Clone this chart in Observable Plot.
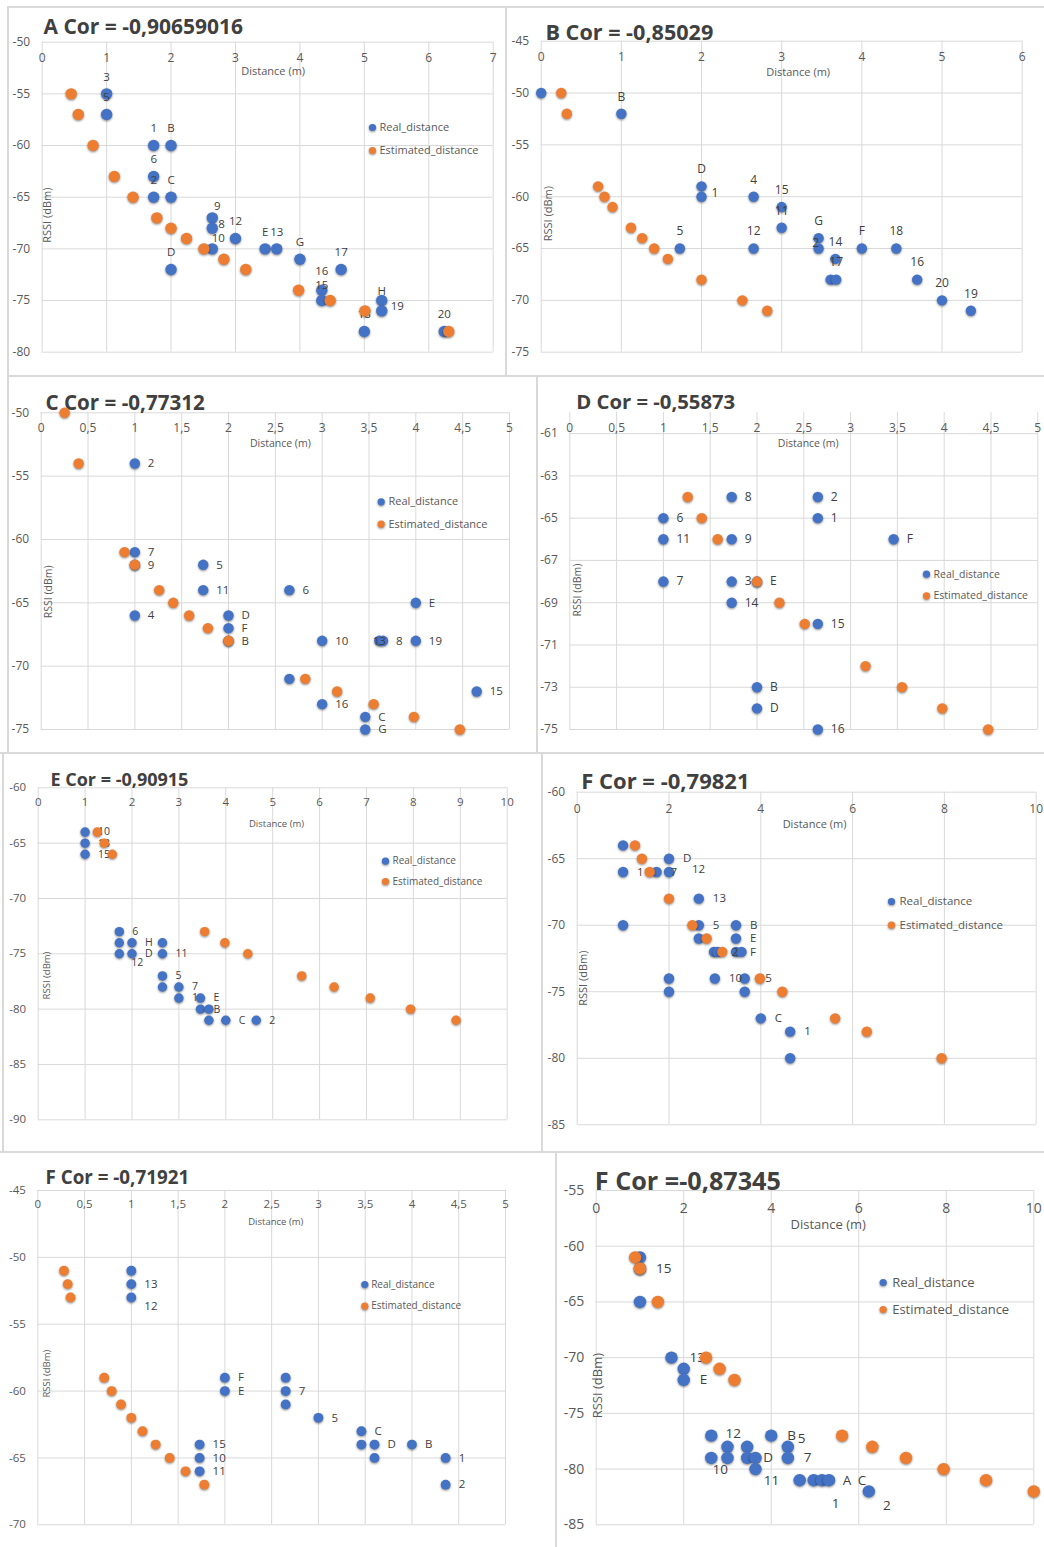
<!DOCTYPE html>
<html><head><meta charset="utf-8">
<script src="https://cdn.jsdelivr.net/npm/d3@7"></script>
<script src="https://cdn.jsdelivr.net/npm/@observablehq/plot@0.6"></script>
<style>
body{margin:0;background:#fff;}
#root{position:relative;width:1044px;height:1547px;overflow:hidden;background:#fff;font-family:"Open Sans",sans-serif;}
.panel{position:absolute;}
.sep{position:absolute;background:#d9d9d9;}
.panel svg g[aria-label="dot"] circle{filter:drop-shadow(0.6px 1.2px 0.8px rgba(0,0,0,0.45));}
</style>
</head><body><div id="root"></div>
<script>
// ---------- titles ----------
const titles = ["A Cor = -0,90659016","B Cor = -0,85029","C Cor = -0,77312","D Cor = -0,55873",
                "E Cor = -0,90915","F Cor = -0,79821","F Cor = -0,71921","F Cor =-0,87345"];
const seriesNames = ["Real_distance","Estimated_distance"];
const xTitle = "Distance (m)";
const yTitle = "RSSI (dBm)";

// ---------- ticks ----------
const A_xTicks=[0,1,2,3,4,5,6,7], A_yTicks=[-80,-75,-70,-65,-60,-55,-50];
const B_xTicks=[0,1,2,3,4,5,6], B_yTicks=[-75,-70,-65,-60,-55,-50,-45];
const C_xTicks=[0,0.5,1,1.5,2,2.5,3,3.5,4,4.5,5], C_yTicks=[-75,-70,-65,-60,-55,-50];
const D_xTicks=[0,0.5,1,1.5,2,2.5,3,3.5,4,4.5,5], D_yTicks=[-75,-73,-71,-69,-67,-65,-63,-61];
const E_xTicks=[0,1,2,3,4,5,6,7,8,9,10], E_yTicks=[-90,-85,-80,-75,-70,-65,-60];
const F_xTicks=[0,2,4,6,8,10], F_yTicks=[-85,-80,-75,-70,-65,-60];
const G_xTicks=[0,0.5,1,1.5,2,2.5,3,3.5,4,4.5,5], G_yTicks=[-70,-65,-60,-55,-50,-45];
const H_xTicks=[0,2,4,6,8,10], H_yTicks=[-85,-80,-75,-70,-65,-60,-55];

// ---------- data: [distance, RSSI, label] ----------
const A_real=[[1,-55,"3"],[1,-57,"5"],[1.73,-60,"1"],[2,-60,"B"],[1.73,-63,"6"],[1.73,-65,"2"],[2,-65,"C"],
 [2.64,-67,"9"],[2.64,-68,"8"],[3,-69,"12"],[2.64,-70,"10"],[2,-72,"D"],[3.46,-70,"E"],[3.64,-70,"13"],
 [4,-71,"G"],[4.64,-72,"17"],[4.34,-74,"16"],[4.34,-75,"15"],[5.27,-75,"H"],[5.27,-76,"19"],[5,-78,"18"],[6.24,-78,"20"]];
const A_est=[[0.45,-55],[0.56,-57],[0.79,-60],[1.12,-63],[1.41,-65],[1.78,-67],[2,-68],[2.24,-69],[2.51,-70],
 [2.82,-71],[3.16,-72],[3.98,-74],[4.47,-75],[5.01,-76],[6.31,-78]];

const B_real=[[0,-50,""],[1,-52,"B"],[2,-59,"D"],[2,-60,"1"],[2.65,-60,"4"],[3,-61,"15"],[3,-63,"11"],[1.73,-65,"5"],
 [2.65,-65,"12"],[3.46,-64,"G"],[3.46,-65,"2"],[3.67,-66,"14"],[3.61,-68,""],[3.68,-68,"17"],[4,-65,"F"],
 [4.43,-65,"18"],[4.69,-68,"16"],[5,-70,"20"],[5.36,-71,"19"]];
const B_est=[[0.25,-50],[0.32,-52],[0.71,-59],[0.79,-60],[0.89,-61],[1.12,-63],[1.26,-64],[1.41,-65],[1.58,-66],
 [2,-68],[2.51,-70],[2.82,-71]];

const C_real=[[1,-54,"2"],[1,-61,"7"],[1,-62,"9"],[1.73,-62,"5"],[1.73,-64,"11"],[2.65,-64,"6"],[1,-66,"4"],
 [2,-66,"D"],[2,-67,"F"],[2,-68,"B"],[4,-65,"E"],[3,-68,"10"],[3.61,-68,"13"],[3.65,-68,"8"],[4,-68,"19"],
 [2.65,-71,"3"],[3,-73,"16"],[3.46,-74,"C"],[3.46,-75,"G"],[4.65,-72,"15"]];
const C_est=[[0.25,-50],[0.4,-54],[0.89,-61],[1,-62],[1.26,-64],[1.41,-65],[1.58,-66],[1.78,-67],[2,-68],
 [2.82,-71],[3.16,-72],[3.55,-73],[3.98,-74],[4.47,-75]];

const D_real=[[1.73,-64,"8"],[2.65,-64,"2"],[1,-65,"6"],[2.65,-65,"1"],[1,-66,"11"],[1.73,-66,"9"],[3.46,-66,"F"],
 [1,-68,"7"],[1.73,-68,"3"],[2,-68,"E"],[1.73,-69,"14"],[2.65,-70,"15"],[2,-73,"B"],[2,-74,"D"],[2.65,-75,"16"]];
const D_est=[[1.26,-64],[1.41,-65],[1.58,-66],[2,-68],[2.24,-69],[2.51,-70],[3.16,-72],[3.55,-73],[3.98,-74],[4.47,-75]];

const E_real=[[1,-64,"10"],[1,-65,"13"],[1,-66,"15"],[1.73,-73,"6"],[1.73,-74,""],[2,-74,"H"],[1.73,-75,"12"],
 [2,-75,"D"],[2.65,-74,""],[2.65,-75,"11"],[2.65,-77,"5"],[2.65,-78,""],[3,-78,"7"],[3,-79,"1"],[3.46,-79,"E"],
 [3.46,-80,"B"],[3.64,-80,""],[3.64,-81,""],[4,-81,"C"],[4.65,-81,"2"]];
const E_est=[[1.26,-64],[1.41,-65],[1.58,-66],[3.55,-73],[3.98,-74],[4.47,-75],[5.62,-77],[6.31,-78],[7.08,-79],
 [7.94,-80],[8.91,-81]];

const F_real=[[1,-64,""],[2,-65,"D"],[1,-66,"11"],[1.73,-66,"7"],[2,-66,"12"],[2.65,-68,"13"],[1,-70,""],
 [2.65,-70,"5"],[3.46,-70,"B"],[2.65,-71,""],[3.46,-71,"E"],[2.98,-72,""],[3.06,-72,"2"],[3.46,-72,"F"],
 [3.58,-72,""],[2,-74,""],[3,-74,"10"],[3.65,-74,"15"],[2,-75,""],[3.65,-75,""],[4,-77,"C"],[4.64,-78,"1"],[4.64,-80,""]];
const F_est=[[1.26,-64],[1.41,-65],[1.58,-66],[2,-68],[2.51,-70],[2.82,-71],[3.16,-72],[3.98,-74],[4.47,-75],
 [5.62,-77],[6.31,-78],[7.94,-80]];

const G_real=[[1,-51,""],[1,-52,"13"],[1,-53,"12"],[2,-59,"F"],[2,-60,"E"],[2.65,-59,""],[2.65,-60,"7"],
 [2.65,-61,""],[3,-62,"5"],[3.46,-63,"C"],[3.46,-64,""],[3.6,-64,"D"],[3.6,-65,""],[4,-64,"B"],[4.36,-65,"1"],
 [4.36,-67,"2"],[1.73,-64,"15"],[1.73,-65,"10"],[1.73,-66,"11"]];
const G_est=[[0.28,-51],[0.32,-52],[0.35,-53],[0.71,-59],[0.79,-60],[0.89,-61],[1,-62],[1.12,-63],[1.26,-64],
 [1.41,-65],[1.58,-66],[1.78,-67]];

const H_real=[[1,-61,""],[1,-62,"15"],[1,-65,""],[1.72,-70,"13"],[2,-71,""],[2,-72,"E"],[2.63,-77,"12"],
 [4,-77,"B"],[3,-78,""],[3.45,-78,""],[4.38,-78,"5"],[2.63,-79,"10"],[3,-79,""],[3.45,-79,"D"],[3.64,-79,""],
 [4.38,-79,"7"],[3.64,-80,"11"],[4.65,-81,""],[4.97,-81,"1"],[5.16,-81,"C"],[5.32,-81,"A"],[6.23,-82,"2"]];
const H_est=[[0.89,-61],[1,-62],[1.41,-65],[2.51,-70],[2.82,-71],[3.16,-72],[5.62,-77],[6.31,-78],[7.08,-79],
 [7.94,-80],[8.91,-81],[10,-82]];

// ---------- layout / style config ----------
const BLUE="#4472C4", ORANGE="#ED7D31", GRID="#d9d9d9", TXT="#595959", DARK="#404040";
const TOP=[0,-17,"middle"];
const panels=[
 {box:[0,0,506,376], m:[41.7,13.3,24.3,41.7], xd:[0,7], yd:[-80,-50], xt:A_xTicks, yt:A_yTicks, real:A_real, est:A_est, title:titles[0],
  tpos:[1.3,-8.4,21], tick:12, ax:11, xl:[15.6,5.5,29.6], yl:[5.3,18], r:5.7, lab:11.5, def:TOP,
  over:{"8":[6,-4,"start"],"10":[6,-11,"middle"],"9":[5,-12,"middle"],"19":[9,-5,"start"],"H":[0,-9,"middle"],
        "16":[0,-19,"middle"],"15":[0,-15,"middle"]},
  leg:[330.3,85.3,108.3,337.3,11]},
 {box:[506,0,538,376], m:[40.7,22.3,24.3,34.7], xd:[0,6], yd:[-75,-45], xt:B_xTicks, yt:B_yTicks, real:B_real, est:B_est, title:titles[1],
  tpos:[4.3,-1.4,21.6], tick:12, ax:11, xl:[15.8,16.5,31.5], yl:[7.6,17], r:5.2, lab:12, def:TOP,
  over:{"1":[10,-4,"start"],"2":[-3,-5,"middle"]}, leg:null},
 {box:[0,376,537,377], m:[36.3,28,24,40.7], xd:[0,5], yd:[-75,-50], xt:C_xTicks, yt:C_yTicks, real:C_real, est:C_est, title:titles[2],
  tpos:[4.3,-2.6,20.6], tick:12, ax:10.5, xl:[15.7,5,30.7], yl:[7.6,20.6], r:5.2, lab:11.5, def:[13,0,"start"],
  over:{"13":[0,0,"middle"]}, leg:[340,89,111.4,347.3,11]},
 {box:[537,376,507,377], m:[36,6.7,24,32.3], xd:[0,5], yd:[-75,-60], xt:D_xTicks, yt:D_yTicks, real:D_real, est:D_est, title:titles[3],
  tpos:[6.4,-3.3,20.3], tick:12, ax:10.5, xl:[16,4.4,31], yl:[7.4,19], r:5.2, lab:12, def:[13,0,"start"],
  over:{}, leg:[356.7,161.7,183.3,363.7,10.5]},
 {box:[0,753,542,399], m:[34.3,35.3,32.7,37.7], xd:[0,10], yd:[-90,-60], xt:E_xTicks, yt:E_yTicks, real:E_real, est:E_est, title:titles[4],
  tpos:[12.3,-1.6,18], tick:11.5, ax:9.5, xl:[14.4,3.8,36], yl:[9,21.7], r:4.7, lab:10.5, def:[13,0,"start"],
  over:{"12":[12,9,"start"]}, leg:[347.3,73.4,93.7,354.3,10]},
 {box:[542,753,502,399], m:[38.7,8.3,27.7,34.7], xd:[0,10], yd:[-85,-60], xt:F_xTicks, yt:F_yTicks, real:F_real, est:F_est, title:titles[5],
  tpos:[4,-3.4,22], tick:12, ax:11, xl:[16.6,7.8,32.6], yl:[6,19.7], r:5.2, lab:11.5, def:[14,0,"start"],
  over:{"12":[23,-3,"start"]}, leg:[314.3,109.3,133,322.3,11.5]},
 {box:[0,1152,556,395], m:[38,51,22.7,37.3], xd:[0,5], yd:[-70,-45], xt:G_xTicks, yt:G_yTicks, real:G_real, est:G_est, title:titles[6],
  tpos:[7.7,-6.7,18.8], tick:11.5, ax:9.5, xl:[14.3,4.1,31], yl:[9.4,16], r:4.9, lab:11.5, def:[13,0,"start"],
  over:{"12":[13,9,"start"]}, leg:[327,94,115.7,333.4,10]},
 {box:[556,1152,488,395], m:[38,10.7,22.7,39.7], xd:[0,10], yd:[-85,-55], xt:H_xTicks, yt:H_yTicks, real:H_real, est:H_est, title:titles[7],
  tpos:[-1.4,-1,25.2], tick:14, ax:13, xl:[18.3,13.2,34], yl:[2,28], r:6.2, lab:13.5, def:[16,0,"start"],
  over:{"5":[10,-8,"start"],"10":[9,12,"middle"],"11":[16,12,"middle"],"1":[22,23,"middle"],"2":[18,14,"middle"],
        "A":[18,0,"middle"],"C":[40,0,"middle"],"12":[22,-2,"middle"],"13":[18,0,"start"]},
  leg:[287,92,119,296,13]}
];

const fmtX = d => String(d).replace(".", ",");
const fmtY = d => String(d);
const root = document.getElementById("root");

// separators between the panels
[[8,6,1036,2],[8,375,1036,2],[0,752,1044,2],[0,1151,1044,2],
 [7,6,2,747],[505,6,2,370],[536,376,2,377],[2,753,2,399],[541,753,2,399],[555,1152,2,395]].forEach(s=>{
  const d=document.createElement("div"); d.className="sep";
  d.style.left=s[0]+"px"; d.style.top=s[1]+"px"; d.style.width=s[2]+"px"; d.style.height=s[3]+"px";
  root.appendChild(d);
});

function labelMarks(p){
  const groups=new Map();
  for(const d of p.real){
    if(!d[2]) continue;
    const o=p.over[d[2]]||p.def;
    const k=o.join("|");
    if(!groups.has(k)) groups.set(k,{o,rows:[]});
    groups.get(k).rows.push(d);
  }
  return [...groups.values()].map(({o,rows})=>Plot.text(rows,{x:d=>d[0],y:d=>d[1],text:d=>d[2],
    dx:o[0],dy:o[1],textAnchor:o[2],lineAnchor:"middle",fontSize:p.lab,fill:DARK}));
}

panels.forEach(p=>{
  const [bx,by,bw,bh]=p.box;
  const [mt,mr,mb,ml]=p.m;
  const marks=[
    Plot.gridX(p.xt,{stroke:GRID,strokeOpacity:1,strokeWidth:1}),
    Plot.gridY(p.yt,{stroke:GRID,strokeOpacity:1,strokeWidth:1}),
    Plot.axisY(p.yt,{tickSize:0,tickPadding:12,tickFormat:fmtY,fontSize:p.tick,fill:TXT,label:null}),
    Plot.text(p.xt,{x:d=>d,frameAnchor:"top",dy:p.xl[0],text:fmtX,lineAnchor:"middle",fontSize:p.tick,fill:TXT}),
    Plot.text([xTitle],{frameAnchor:"top",text:d=>d,dx:p.xl[1],dy:p.xl[2],textAnchor:"middle",lineAnchor:"middle",fontSize:p.ax,fill:TXT}),
    Plot.text([yTitle],{frameAnchor:"left",text:d=>d,dx:p.yl[0],dy:p.yl[1],rotate:-90,textAnchor:"middle",lineAnchor:"middle",fontSize:p.ax,fill:TXT}),
    Plot.text([p.title],{frameAnchor:"top-left",text:d=>d,dx:p.tpos[0],dy:p.tpos[1],textAnchor:"start",lineAnchor:"bottom",
      fontSize:p.tpos[2],fontWeight:"bold",fill:DARK}),
    Plot.dot(p.real,{x:d=>d[0],y:d=>d[1],r:p.r,fill:BLUE}),
    ...labelMarks(p),
    Plot.dot(p.est,{x:d=>d[0],y:d=>d[1],r:p.r,fill:ORANGE})
  ];
  if(p.leg){
    const [ldx,ly1,ly2,ltx,lfs]=p.leg;
    marks.push(
      Plot.dot([0],{frameAnchor:"top-left",dx:ldx,dy:ly1,r:3.6,fill:BLUE}),
      Plot.dot([0],{frameAnchor:"top-left",dx:ldx,dy:ly2,r:3.6,fill:ORANGE}),
      Plot.text([seriesNames[0]],{frameAnchor:"top-left",text:d=>d,dx:ltx,dy:ly1,textAnchor:"start",lineAnchor:"middle",fontSize:lfs,fill:TXT}),
      Plot.text([seriesNames[1]],{frameAnchor:"top-left",text:d=>d,dx:ltx,dy:ly2,textAnchor:"start",lineAnchor:"middle",fontSize:lfs,fill:TXT})
    );
  }
  const svg=Plot.plot({
    width:bw,height:bh,marginTop:mt,marginRight:mr,marginBottom:mb,marginLeft:ml,
    x:{domain:p.xd,axis:null},y:{domain:p.yd,axis:null},
    style:{fontFamily:"'Open Sans',sans-serif",background:"transparent",overflow:"visible"},
    marks
  });
  const div=document.createElement("div");
  div.className="panel";
  div.style.left=bx+"px"; div.style.top=by+"px"; div.style.width=bw+"px"; div.style.height=bh+"px";
  div.appendChild(svg);
  root.appendChild(div);
});
</script>
</body></html>
